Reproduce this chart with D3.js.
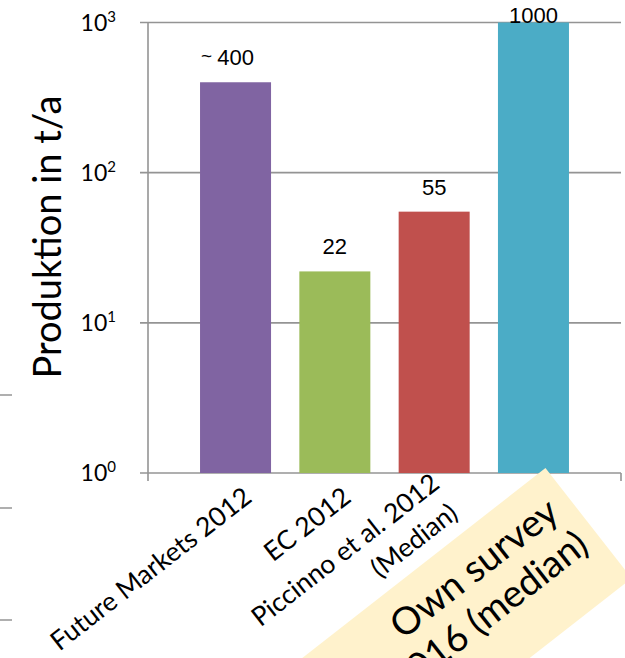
<!DOCTYPE html>
<html><head><meta charset="utf-8">
<script src="https://cdn.jsdelivr.net/npm/d3@7"></script>
<style>html,body{margin:0;padding:0;background:#fff;} svg{display:block;}</style>
</head><body>
<svg id="chart" width="625" height="658"></svg>
<script>
// Annual production estimates (t/a), log scale
const categories = ["Future Markets 2012", "EC 2012", "Piccinno et al. 2012|(Median)", "Own survey|2016 (median)"];
const values = [400, 22, 55, 1000];
const valueLabels = ["400", "22", "55", "1000"];
const labelPrefixes = ["~ ", "", "", ""];
const barColors = ["#8064a2", "#9bbb59", "#c0504d", "#4bacc6"];
const tickValues = [1, 10, 100, 1000];
const tickExponents = ["0", "1", "2", "3"];
const yTitle = "Produktion in t/a";

const svg = d3.select("#chart");
const calibriLike = "Lato, 'Open Sans', sans-serif";
const arialLike = "'Liberation Sans', Arial, sans-serif";
const gridColor = "#949494";

const x = d3.scaleBand().domain(categories).range([148, 621])
  .paddingInner(0.285).paddingOuter(0.524);
const y = d3.scaleLog().domain([1, 1000]).range([473, 22.5]);

// stray axis ticks of the neighbouring panel on the left edge
svg.append("g").selectAll("line").data([395, 508, 620]).join("line")
  .attr("x1", 0).attr("x2", 12).attr("y1", d => d).attr("y2", d => d)
  .attr("stroke", gridColor).attr("stroke-width", 1.5);

// horizontal gridlines (the lowest one doubles as the category axis)
svg.append("g").selectAll("line").data(tickValues).join("line")
  .attr("x1", 140).attr("x2", 621)
  .attr("y1", d => y(d)).attr("y2", d => y(d))
  .attr("stroke", gridColor).attr("stroke-width", 1.6);

// value axis line and the end ticks of the category axis
svg.append("line").attr("x1", 148).attr("x2", 148)
  .attr("y1", y(1000)).attr("y2", y(1) + 8)
  .attr("stroke", gridColor).attr("stroke-width", 1.6);
svg.append("line").attr("x1", 621).attr("x2", 621)
  .attr("y1", y(1)).attr("y2", y(1) + 8)
  .attr("stroke", gridColor).attr("stroke-width", 1.6);

// tick labels 10^n
const tickG = svg.append("g").selectAll("text").data(tickValues).join("text")
  .attr("x", 116).attr("y", d => y(d) + 8)
  .attr("text-anchor", "end")
  .attr("font-family", calibriLike).attr("font-size", 23).attr("fill", "#000");
tickG.append("tspan").text("10");
tickG.append("tspan").attr("dy", -9).attr("font-size", 15)
  .text((d, i) => tickExponents[i]);

// y title
svg.append("text")
  .attr("transform", "translate(61,237) rotate(-90)")
  .attr("text-anchor", "middle")
  .attr("font-family", calibriLike).attr("font-size", 38).attr("fill", "#000")
  .text(yTitle);

// bars
svg.append("g").selectAll("rect").data(values).join("rect")
  .attr("x", (d, i) => x(categories[i]))
  .attr("width", x.bandwidth())
  .attr("y", d => y(d))
  .attr("height", d => y(1) - y(d))
  .attr("fill", (d, i) => barColors[i]);

// value labels
const vl = svg.append("g");
values.forEach((v, i) => {
  const cx = x(categories[i]) + x.bandwidth() / 2;
  const ty = Math.max(y(v) - 17, 23);
  const t = vl.append("text").attr("x", cx).attr("y", ty)
    .attr("text-anchor", "middle")
    .attr("font-family", arialLike).attr("font-size", 22).attr("fill", "#000")
    .text(valueLabels[i]);
  if (labelPrefixes[i]) {
    const w = t.node().getComputedTextLength();
    vl.append("text").attr("x", cx - w / 2 - 5).attr("y", ty - 3)
      .attr("text-anchor", "end")
      .attr("font-family", arialLike).attr("font-size", 19).attr("fill", "#000")
      .text(labelPrefixes[i].trim());
  }
});

// rotated category labels
const angle = -38;
const catFont = 26.5, catLine = 35;
categories.slice(0, 3).forEach((c, i) => {
  const cx = x(c) + x.bandwidth() / 2;
  const lines = c.split("|");
  const g = svg.append("g")
    .attr("transform", `translate(${cx + 12},${y(1) + 20}) rotate(${angle})`);
  const t = g.append("text").attr("text-anchor", "end")
    .attr("font-family", calibriLike).attr("font-size", catFont).attr("fill", "#000");
  lines.forEach((ln, j) => {
    t.append("tspan").attr("x", j * -4)
      .attr("y", (j - (lines.length - 1) / 2) * catLine)
      .attr("dy", "0.35em").text(ln);
  });
});

// highlighted callout for the own survey
const own = categories[3];
const ownCx = x(own) + x.bandwidth() / 2;
const cg = svg.append("g")
  .attr("transform", `translate(${ownCx + 12},${y(1) - 5}) rotate(${angle})`);
cg.append("rect").attr("x", -340).attr("y", 0).attr("width", 340).attr("height", 140)
  .attr("fill", "#fff2cc");
const ct = cg.append("text").attr("text-anchor", "middle")
  .attr("font-family", calibriLike).attr("font-size", 38).attr("fill", "#000");
own.split("|").forEach((ln, j) => {
  ct.append("tspan").attr("x", -118 - j * 16).attr("y", 48 + j * 44).text(ln);
});
</script>
</body></html>
